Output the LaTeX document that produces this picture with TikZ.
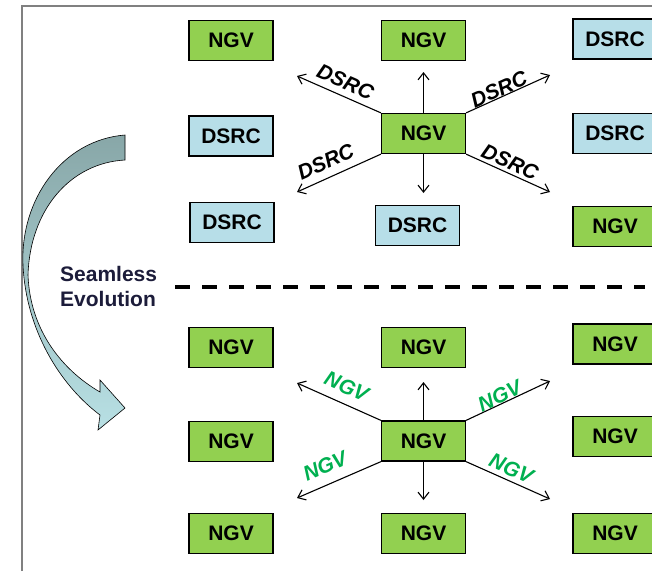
\documentclass[tikz,border=0pt]{standalone}
\usepackage{fontspec}
\setmainfont{Liberation Sans}
\usepackage{tikz}
\usetikzlibrary{arrows.meta,positioning}
\definecolor{ngvgreen}{RGB}{146,208,80}
\definecolor{dsrcblue}{RGB}{183,222,232}
\definecolor{lblgreen}{RGB}{0,176,80}
\definecolor{arrtop}{RGB}{136,167,168}
\definecolor{arrbot}{RGB}{184,224,228}
\definecolor{navytext}{RGB}{28,28,58}
\tikzset{
  radiobox/.style={draw=black, line width=1.3pt, minimum width=84pt, minimum height=40pt,
    inner sep=0pt, font=\fontsize{21}{24}\selectfont\bfseries},
  ngvbox/.style={radiobox, fill=ngvgreen},
  dsrcbox/.style={radiobox, fill=dsrcblue},
  link/.style={line width=1.1pt, -{Straight Barb[length=7pt,width=11pt]}},
  linklbl/.style={sloped, above, inner sep=2pt, font=\fontsize{21}{24}\selectfont\bfseries\itshape},
}
\begin{document}
\begin{tikzpicture}[x=1pt,y=-1pt]
          \clip (0,0) rectangle (652,571);
          \fill[white] (0,0) rectangle (652,571);
          \draw[gray, line width=1.5pt] (22,571) -- (22,6) -- (652,6);

          % upper half: DSRC
          \node[ngvbox]  (tl1) at (231,40.5)  {NGV};
          \node[dsrcbox] (ml1) at (231,136)   {DSRC};
          \node[dsrcbox] (bl1) at (232,222.5) {DSRC};
          \node[ngvbox]  (tc1) at (423.5,40.5) {NGV};
          \node[ngvbox]  (c1)  at (423.5,133.5) {NGV};
          \node[dsrcbox] (bc1) at (417.5,225.5) {DSRC};
          \node[dsrcbox] (tr1) at (615,39)    {DSRC};
          \node[dsrcbox] (mr1) at (615,133.5) {DSRC};
          \node[ngvbox]  (br1) at (615,226.5) {NGV};

          \coordinate (up1) at (423.5,72);
          \coordinate (dn1) at (423.5,193);
          \coordinate (ul1) at (297,76);
          \coordinate (ur1) at (550,75);
          \coordinate (lr1) at (550,192);
          \coordinate (ll1) at (297,192);

          \draw[link] (c1.north) -- (up1);
          \draw[link] (c1.south) -- (dn1);
          \draw[link] (c1.north west) -- node[linklbl, pos=0.49, inner sep=6pt] {DSRC} (ul1);
          \draw[link] (c1.north east) -- node[linklbl, pos=0.43, inner sep=0pt] {DSRC} (ur1);
          \draw[link] (c1.south east) -- node[linklbl, pos=0.47, inner sep=3pt] {DSRC} (lr1);
          \draw[link] (c1.south west) -- node[linklbl, pos=0.58, inner sep=8pt] {DSRC} (ll1);

          % divider
          \coordinate (dl) at (175,287);
          \coordinate (dr) at (645,287);
          \draw[line width=4pt, dash pattern=on 15pt off 12pt] (dl) -- (dr);

          \node[anchor=base west, align=left, inner sep=0pt, text=navytext,
            font=\fontsize{21}{25}\selectfont\bfseries] (evo) at (60,306)
            {Seamless\\Evolution};

          % curved arrow
          \shade[top color=arrtop, bottom color=arrbot, draw=black, line width=0.6pt]
            (125,135) .. controls (62,140) and (20,200) .. (23,265)
            .. controls (26,330) and (60,385) .. (100,415)
            -- (98,430) -- (125,408) -- (100,380) -- (100,392)
            .. controls (62,370) and (30,330) .. (28,275)
            .. controls (30,210) and (70,163) .. (125,160) -- cycle;

          % lower half: NGV
          \node[ngvbox] (tl2) at (231,347.5) {NGV};
          \node[ngvbox] (ml2) at (231,441.5) {NGV};
          \node[ngvbox] (bl2) at (231,533.5) {NGV};
          \node[ngvbox] (tc2) at (423.5,347.5) {NGV};
          \node[ngvbox] (c2)  at (423.5,441) {NGV};
          \node[ngvbox] (bc2) at (423.5,533.5) {NGV};
          \node[ngvbox] (tr2) at (615,344) {NGV};
          \node[ngvbox] (mr2) at (615,436.5) {NGV};
          \node[ngvbox] (br2) at (615,533.5) {NGV};

          \coordinate (up2) at (423.5,382);
          \coordinate (dn2) at (423.5,500);
          \coordinate (ul2) at (297,383);
          \coordinate (ur2) at (550,381);
          \coordinate (lr2) at (550,499);
          \coordinate (ll2) at (297,498);

          \draw[link] (c2.north) -- (up2);
          \draw[link] (c2.south) -- (dn2);
          \draw[link] (c2.north west) -- node[linklbl, pos=0.49, inner sep=9pt, text=lblgreen] {NGV} (ul2);
          \draw[link] (c2.north east) -- node[linklbl, pos=0.44, inner sep=0pt, text=lblgreen] {NGV} (ur2);
          \draw[link] (c2.south east) -- node[linklbl, pos=0.48, inner sep=4pt, text=lblgreen] {NGV} (lr2);
          \draw[link] (c2.south west) -- node[linklbl, pos=0.58, inner sep=10pt, text=lblgreen] {NGV} (ll2);
\end{tikzpicture}
\end{document}
